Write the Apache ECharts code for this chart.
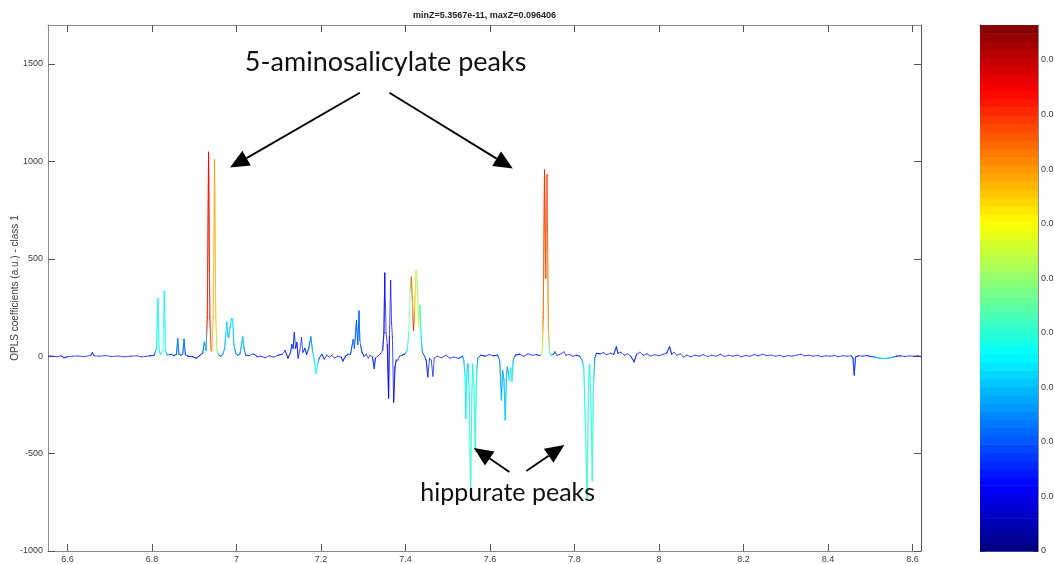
<!DOCTYPE html>
<html>
<head>
<meta charset="utf-8">
<script src="https://cdn.jsdelivr.net/npm/echarts@6/dist/echarts.min.js"></script>
<style>
html,body{margin:0;padding:0;background:#fff;}
#main{width:1054px;height:564px;}
</style>
</head>
<body>
<div id="main"></div>
<script>
// ---- data (ppm, OPLS coefficient, Z colour value) ----
const spectrum = [
 [6.554,2,.015],[6.565,0,.015],[6.575,-3,.015],[6.585,2,.015],[6.592,-8,.016],[6.600,-3,.015],
 [6.612,0,.015],[6.625,1,.015],[6.640,-2,.015],[6.655,4,.015],[6.659,18,.018],[6.663,2,.015],
 [6.675,0,.015],[6.690,3,.015],[6.705,-2,.015],[6.720,1,.015],[6.735,-3,.015],[6.750,0,.015],
 [6.765,2,.015],[6.775,-4,.015],[6.785,-1,.015],[6.795,2,.015],[6.805,4,.018],
 [6.811,40,.035],[6.814,296,.037],[6.817,30,.04],[6.820,8,.035],[6.826,30,.035],[6.829,333,.036],
 [6.832,30,.04],[6.836,6,.03],[6.845,10,.02],[6.852,3,.018],[6.858,10,.02],[6.861,91,.025],
 [6.864,10,.022],[6.869,5,.02],[6.873,12,.022],[6.876,87,.024],[6.879,8,.02],[6.885,0,.016],
 [6.895,-2,.015],[6.905,-10,.016],[6.912,2,.015],[6.920,15,.02],[6.924,73,.026],[6.928,30,.03],
 [6.931,200,.082],[6.934,1047,.085],[6.937,200,.08],[6.940,30,.075],[6.942,25,.07],[6.945,200,.07],
 [6.948,1008,.07],[6.951,200,.065],[6.954,30,.05],[6.958,5,.03],[6.963,0,.02],[6.968,10,.025],
 [6.972,40,.03],[6.975,120,.033],[6.977,176,.033],[6.980,100,.03],[6.982,97,.03],[6.985,150,.032],
 [6.988,193,.034],[6.991,190,.034],[6.994,60,.03],[6.998,15,.025],[7.003,5,.02],[7.008,10,.025],
 [7.013,70,.03],[7.015,100,.032],[7.018,40,.028],[7.022,5,.02],[7.030,3,.016],[7.040,12,.016],
 [7.050,-3,.015],[7.058,0,.015],[7.068,-8,.015],[7.078,2,.015],[7.088,-5,.015],[7.098,4,.015],
 [7.108,10,.016],[7.115,30,.016],[7.122,-10,.015],[7.128,20,.018],[7.131,60,.016],[7.134,40,.016],
 [7.137,121,.015],[7.140,40,.015],[7.143,70,.016],[7.146,-10,.015],[7.150,30,.015],[7.154,96,.015],
 [7.157,20,.015],[7.162,40,.018],[7.166,10,.015],[7.171,40,.02],[7.176,99,.025],[7.180,30,.03],
 [7.184,-20,.035],[7.188,-89,.04],[7.192,-40,.035],[7.196,-10,.02],[7.202,10,.018],[7.208,-15,.015],
 [7.214,5,.015],[7.220,-5,.015],[7.226,5,.015],[7.232,-10,.015],[7.240,0,.015],[7.248,-5,.015],
 [7.252,-25,.016],[7.258,0,.015],[7.265,10,.018],[7.270,10,.018],[7.276,85,.02],[7.279,40,.02],
 [7.284,184,.022],[7.287,60,.02],[7.290,232,.022],[7.292,80,.02],[7.294,56,.02],[7.297,20,.018],
 [7.302,0,.015],[7.307,10,.015],[7.312,-10,.015],[7.316,5,.015],[7.322,-5,.015],[7.326,-63,.018],
 [7.329,-10,.015],[7.334,0,.015],[7.340,10,.015],[7.346,30,.014],[7.349,120,.013],[7.351,427,.012],
 [7.354,120,.012],[7.357,60,.012],[7.360,-215,.013],[7.362,100,.012],[7.365,389,.012],[7.367,170,.012],
 [7.369,100,.012],[7.372,-236,.012],[7.375,-60,.013],[7.378,-20,.014],[7.382,-20,.015],[7.386,0,.015],
 [7.392,5,.015],[7.398,10,.02],[7.404,30,.04],[7.408,120,.045],[7.411,330,.045],[7.414,406,.074],
 [7.417,250,.072],[7.419,133,.08],[7.422,260,.065],[7.425,440,.055],[7.428,372,.05],[7.431,150,.06],
 [7.434,261,.042],[7.437,100,.035],[7.440,20,.025],[7.445,0,.02],[7.449,-20,.016],[7.453,-106,.015],
 [7.457,-10,.015],[7.461,-20,.015],[7.465,-103,.015],[7.468,-10,.015],[7.475,0,.015],[7.485,-8,.015],
 [7.495,5,.015],[7.505,-10,.015],[7.515,-5,.015],[7.525,-12,.015],[7.535,0,.02],[7.538,-20,.03],
 [7.541,-100,.035],[7.543,-319,.038],[7.545,-100,.035],[7.548,-40,.033],[7.551,-200,.04],[7.554,-700,.042],
 [7.557,-200,.04],[7.559,-40,.038],[7.562,-150,.04],[7.565,-490,.042],[7.568,-100,.035],[7.571,-10,.025],
 [7.578,5,.016],[7.588,0,.015],[7.598,8,.015],[7.608,2,.015],[7.618,5,.018],[7.623,-20,.025],
 [7.627,-225,.03],[7.630,-75,.028],[7.633,-120,.03],[7.636,-328,.032],[7.639,-100,.03],[7.641,-55,.028],
 [7.644,-90,.03],[7.646,-123,.035],[7.649,-60,.035],[7.652,-131,.04],[7.655,-20,.03],[7.660,5,.016],
 [7.670,10,.015],[7.680,0,.015],[7.690,12,.015],[7.700,5,.015],[7.710,8,.015],[7.718,3,.02],
 [7.721,10,.05],[7.724,40,.055],[7.726,200,.075],[7.729,956,.08],[7.732,400,.078],[7.735,932,.077],
 [7.738,150,.07],[7.741,20,.045],[7.745,5,.035],[7.750,10,.02],[7.754,22,.015],[7.758,5,.015],
 [7.764,8,.015],[7.770,15,.015],[7.775,22,.015],[7.780,5,.015],[7.788,8,.015],[7.796,0,.015],
 [7.805,5,.015],[7.812,0,.018],[7.818,-20,.03],[7.822,-60,.035],[7.826,-380,.04],[7.830,-725,.042],
 [7.833,-150,.04],[7.836,-40,.038],[7.839,-250,.04],[7.842,-640,.042],[7.845,-150,.038],[7.848,-10,.025],
 [7.852,15,.016],[7.860,12,.015],[7.868,18,.015],[7.876,8,.015],[7.885,15,.015],[7.893,10,.015],
 [7.899,48,.016],[7.903,15,.015],[7.910,20,.015],[7.918,5,.015],[7.926,12,.015],[7.933,0,.015],
 [7.941,-29,.016],[7.947,10,.015],[7.955,20,.015],[7.963,5,.015],[7.972,12,.015],[7.980,0,.015],
 [7.990,8,.015],[8.000,2,.015],[8.010,10,.015],[8.018,15,.015],[8.025,48,.016],[8.030,10,.015],
 [8.036,20,.015],[8.042,5,.015],[8.050,12,.015],[8.058,-5,.015],[8.066,5,.015],[8.075,-3,.015],
 [8.085,5,.015],[8.095,0,.015],[8.105,8,.015],[8.115,-2,.015],[8.125,5,.015],[8.135,0,.015],
 [8.145,10,.015],[8.155,-2,.015],[8.165,5,.015],[8.175,0,.015],[8.185,6,.015],[8.195,-3,.015],
 [8.205,4,.015],[8.215,0,.015],[8.225,8,.015],[8.235,2,.015],[8.245,10,.015],[8.255,3,.015],
 [8.265,6,.015],[8.275,0,.015],[8.285,4,.015],[8.295,-3,.015],[8.305,3,.015],[8.315,0,.015],
 [8.325,5,.015],[8.335,10,.015],[8.345,2,.015],[8.355,5,.015],[8.365,0,.015],[8.375,3,.015],
 [8.385,-2,.015],[8.395,2,.015],[8.405,0,.015],[8.415,3,.015],[8.425,-2,.015],[8.435,2,.015],
 [8.445,0,.015],[8.455,2,.015],[8.459,-10,.016],[8.462,-97,.018],[8.465,-5,.016],[8.472,2,.015],
 [8.482,0,.015],[8.492,3,.015],[8.502,-2,.018],[8.512,-5,.025],[8.522,-10,.03],[8.532,-12,.032],
 [8.542,-10,.03],[8.552,-6,.025],[8.562,0,.018],[8.572,2,.015],[8.582,-2,.015],[8.592,1,.015],
 [8.602,0,.015],[8.612,2,.015],[8.620,0,.015]
];
const xTicks = [6.6, 6.8, 7.0, 7.2, 7.4, 7.6, 7.8, 8.0, 8.2, 8.4, 8.6];
const yTicks = [-1000, -500, 0, 500, 1000, 1500];
const cbTicks = [0, 0.01, 0.02, 0.03, 0.04, 0.05, 0.06, 0.07, 0.08, 0.09];
const xRange = [6.554, 8.62];
const yRange = [-1000, 1700];
const zMin = 5.3567e-11, zMax = 0.096406;
const titleText = 'minZ=5.3567e-11, maxZ=0.096406';
const yName = 'OPLS coefficients (a.u.) - class 1';
// annotations in data coordinates
const annoLabels = [
  {text: '5-aminosalicylate peaks', at: [7.353, 1511]},
  {text: 'hippurate peaks', at: [7.642, -702]}
];
const arrows = [
  {from: [7.292, 1352], to: [6.985, 968]},
  {from: [7.362, 1352], to: [7.654, 963]},
  {from: [7.646, -594], to: [7.562, -471]},
  {from: [7.686, -589], to: [7.776, -456]}
];

// ---- jet colormap (64 levels) ----
const NLEV = 64;
function clamp01(v){return Math.max(0, Math.min(1, v));}
function jetLevel(k){
  const t = (k + 0.5) / NLEV;
  const r = clamp01(Math.min(4*t - 1.5, -4*t + 4.5));
  const g = clamp01(Math.min(4*t - 0.5, -4*t + 3.5));
  const b = clamp01(Math.min(4*t + 0.5, -4*t + 2.5));
  return 'rgb(' + Math.round(r*255) + ',' + Math.round(g*255) + ',' + Math.round(b*255) + ')';
}
function zColor(z){
  let k = Math.floor((z - zMin) / (zMax - zMin) * NLEV);
  k = Math.max(0, Math.min(NLEV - 1, k));
  return jetLevel(k);
}

// segments built from the spectrum points
const segments = [];
for (let i = 0; i < spectrum.length - 1; i++) {
  const a = spectrum[i], b = spectrum[i+1];
  segments.push([a[0], a[1], b[0], b[1], a[2], b[2]]);
}

const axisGray = '#8c8c8c';
const tickGray = '#555';
const labelStyle = {color: '#3c3c3c', fontSize: 9, fontFamily: 'Liberation Sans'};

const chart = echarts.init(document.getElementById('main'), null, {renderer: 'canvas'});
const option = {
  animation: false,
  backgroundColor: '#fff',
  grid: [
    {left: 48, right: 133, top: 25, bottom: 13, containLabel: false, outerBoundsMode: 'none'},
    {left: 980, right: 16, top: 25, bottom: 13, containLabel: false, outerBoundsMode: 'none'}
  ],
  xAxis: [
    {gridIndex: 0, type: 'value', min: xRange[0], max: xRange[1], position: 'bottom',
     axisLine: {show: true, onZero: false, lineStyle: {color: axisGray, width: 1}},
     axisTick: {show: true, inside: true, length: 7, customValues: xTicks, lineStyle: {color: tickGray}},
     axisLabel: {show: true, margin: 4, customValues: xTicks, ...labelStyle,
                 formatter: v => String(Math.round(v*10)/10)},
     splitLine: {show: false}},
    {gridIndex: 0, type: 'value', min: xRange[0], max: xRange[1], position: 'top',
     axisLine: {show: true, onZero: false, lineStyle: {color: axisGray, width: 1}},
     axisTick: {show: true, inside: true, length: 7, customValues: xTicks, lineStyle: {color: tickGray}},
     axisLabel: {show: false}, splitLine: {show: false}},
    {gridIndex: 1, type: 'value', min: 0, max: 1, position: 'bottom',
     axisLine: {show: true, onZero: false, lineStyle: {color: axisGray}},
     axisTick: {show: false}, axisLabel: {show: false}, splitLine: {show: false}},
    {gridIndex: 1, type: 'value', min: 0, max: 1, position: 'top',
     axisLine: {show: true, onZero: false, lineStyle: {color: axisGray}},
     axisTick: {show: false}, axisLabel: {show: false}, splitLine: {show: false}}
  ],
  yAxis: [
    {gridIndex: 0, type: 'value', min: yRange[0], max: yRange[1], position: 'left',
     name: yName, nameLocation: 'middle', nameRotate: 90, nameGap: 28, nameMoveOverlap: false,
     nameTextStyle: {color: '#3c3c3c', fontSize: 10, fontFamily: 'Liberation Sans'},
     axisLine: {show: true, onZero: false, lineStyle: {color: axisGray, width: 1}},
     axisTick: {show: true, inside: true, length: 7, customValues: yTicks, lineStyle: {color: tickGray}},
     axisLabel: {show: true, margin: 5, customValues: yTicks, ...labelStyle,
                 formatter: v => String(Math.round(v))},
     splitLine: {show: false}},
    {gridIndex: 0, type: 'value', min: yRange[0], max: yRange[1], position: 'right',
     axisLine: {show: true, onZero: false, lineStyle: {color: '#555', width: 1}},
     axisTick: {show: true, inside: true, length: 7, customValues: yTicks, lineStyle: {color: tickGray}},
     axisLabel: {show: false}, splitLine: {show: false}},
    {gridIndex: 1, type: 'value', min: 0, max: zMax, position: 'right',
     axisLine: {show: true, onZero: false, lineStyle: {color: axisGray}},
     axisTick: {show: true, inside: true, length: 5, customValues: cbTicks, lineStyle: {color: '#444'}},
     axisLabel: {show: true, margin: 3, customValues: cbTicks, ...labelStyle,
                 formatter: v => v === 0 ? '0' : String(Math.round(v*100)/100)},
     splitLine: {show: false}},
    {gridIndex: 1, type: 'value', min: 0, max: zMax, position: 'left',
     axisLine: {show: true, onZero: false, lineStyle: {color: axisGray}},
     axisTick: {show: true, inside: true, length: 5, customValues: cbTicks, lineStyle: {color: '#444'}},
     axisLabel: {show: false}, splitLine: {show: false}}
  ],
  series: [
    {
      type: 'custom', xAxisIndex: 0, yAxisIndex: 0, clip: true,
      data: segments,
      encode: {x: [0, 2], y: [1, 3]},
      renderItem: function (params, api) {
        const p0 = api.coord([api.value(0), api.value(1)]);
        const p1 = api.coord([api.value(2), api.value(3)]);
        const c0 = zColor(api.value(4)), c1 = zColor(api.value(5));
        let stroke = c0;
        if (c0 !== c1 && (p0[0] !== p1[0] || p0[1] !== p1[1])) {
          stroke = new echarts.graphic.LinearGradient(p0[0], p0[1], p1[0], p1[1],
            [{offset: 0, color: c0}, {offset: 1, color: c1}], true);
        }
        return {type: 'line', shape: {x1: p0[0], y1: p0[1], x2: p1[0], y2: p1[1]},
                style: {stroke: stroke, lineWidth: 1, lineCap: 'round', opacity: 0.72}};
      }
    },
    {
      type: 'custom', xAxisIndex: 2, yAxisIndex: 2,
      data: [[0, 0, 1, zMax]],
      encode: {x: [0, 2], y: [1, 3]},
      renderItem: function (params, api) {
        const children = [];
        const x0 = api.value(0), x1 = api.value(2), top = api.value(3);
        for (let k = 0; k < NLEV; k++) {
          const a = api.coord([x0, top * k / NLEV]);
          const b = api.coord([x1, top * (k + 1) / NLEV]);
          children.push({type: 'rect',
            shape: {x: a[0], y: b[1], width: b[0] - a[0], height: a[1] - b[1] + 0.6},
            style: {fill: jetLevel(k)}});
        }
        return {type: 'group', children: children};
      }
    }
  ]
};
chart.setOption(option);

// annotations positioned through the chart's own coordinate conversion
const gfx = [];
gfx.push({type: 'text', x: (48 + 921) / 2, y: 16,
  style: {text: titleText, font: 'bold 9px "Liberation Sans"', fill: '#222', align: 'center', verticalAlign: 'middle'}});
annoLabels.forEach(function (l, i) {
  const p = chart.convertToPixel({gridIndex: 0}, l.at);
  gfx.push({type: 'text', x: p[0], y: p[1], z: 100,
    style: {text: l.text, font: (i === 0 ? 27 : 25) + 'px Lato', fill: '#111', align: 'center', verticalAlign: 'middle'}});
});
arrows.forEach(function (a) {
  const s = chart.convertToPixel({gridIndex: 0}, a.from);
  const t = chart.convertToPixel({gridIndex: 0}, a.to);
  const dx = t[0] - s[0], dy = t[1] - s[1];
  const len = Math.sqrt(dx*dx + dy*dy);
  const ux = dx / len, uy = dy / len;
  const L = 19, W = 8.5;
  const bx = t[0] - ux * L, by = t[1] - uy * L;
  gfx.push({type: 'line', z: 100, shape: {x1: s[0], y1: s[1], x2: bx, y2: by},
    style: {stroke: '#000', lineWidth: 1.8}});
  gfx.push({type: 'polygon', z: 100,
    shape: {points: [[t[0], t[1]], [bx - uy * W, by + ux * W], [bx + uy * W, by - ux * W]]},
    style: {fill: '#000'}});
});
chart.setOption({graphic: gfx});
</script>
</body>
</html>
